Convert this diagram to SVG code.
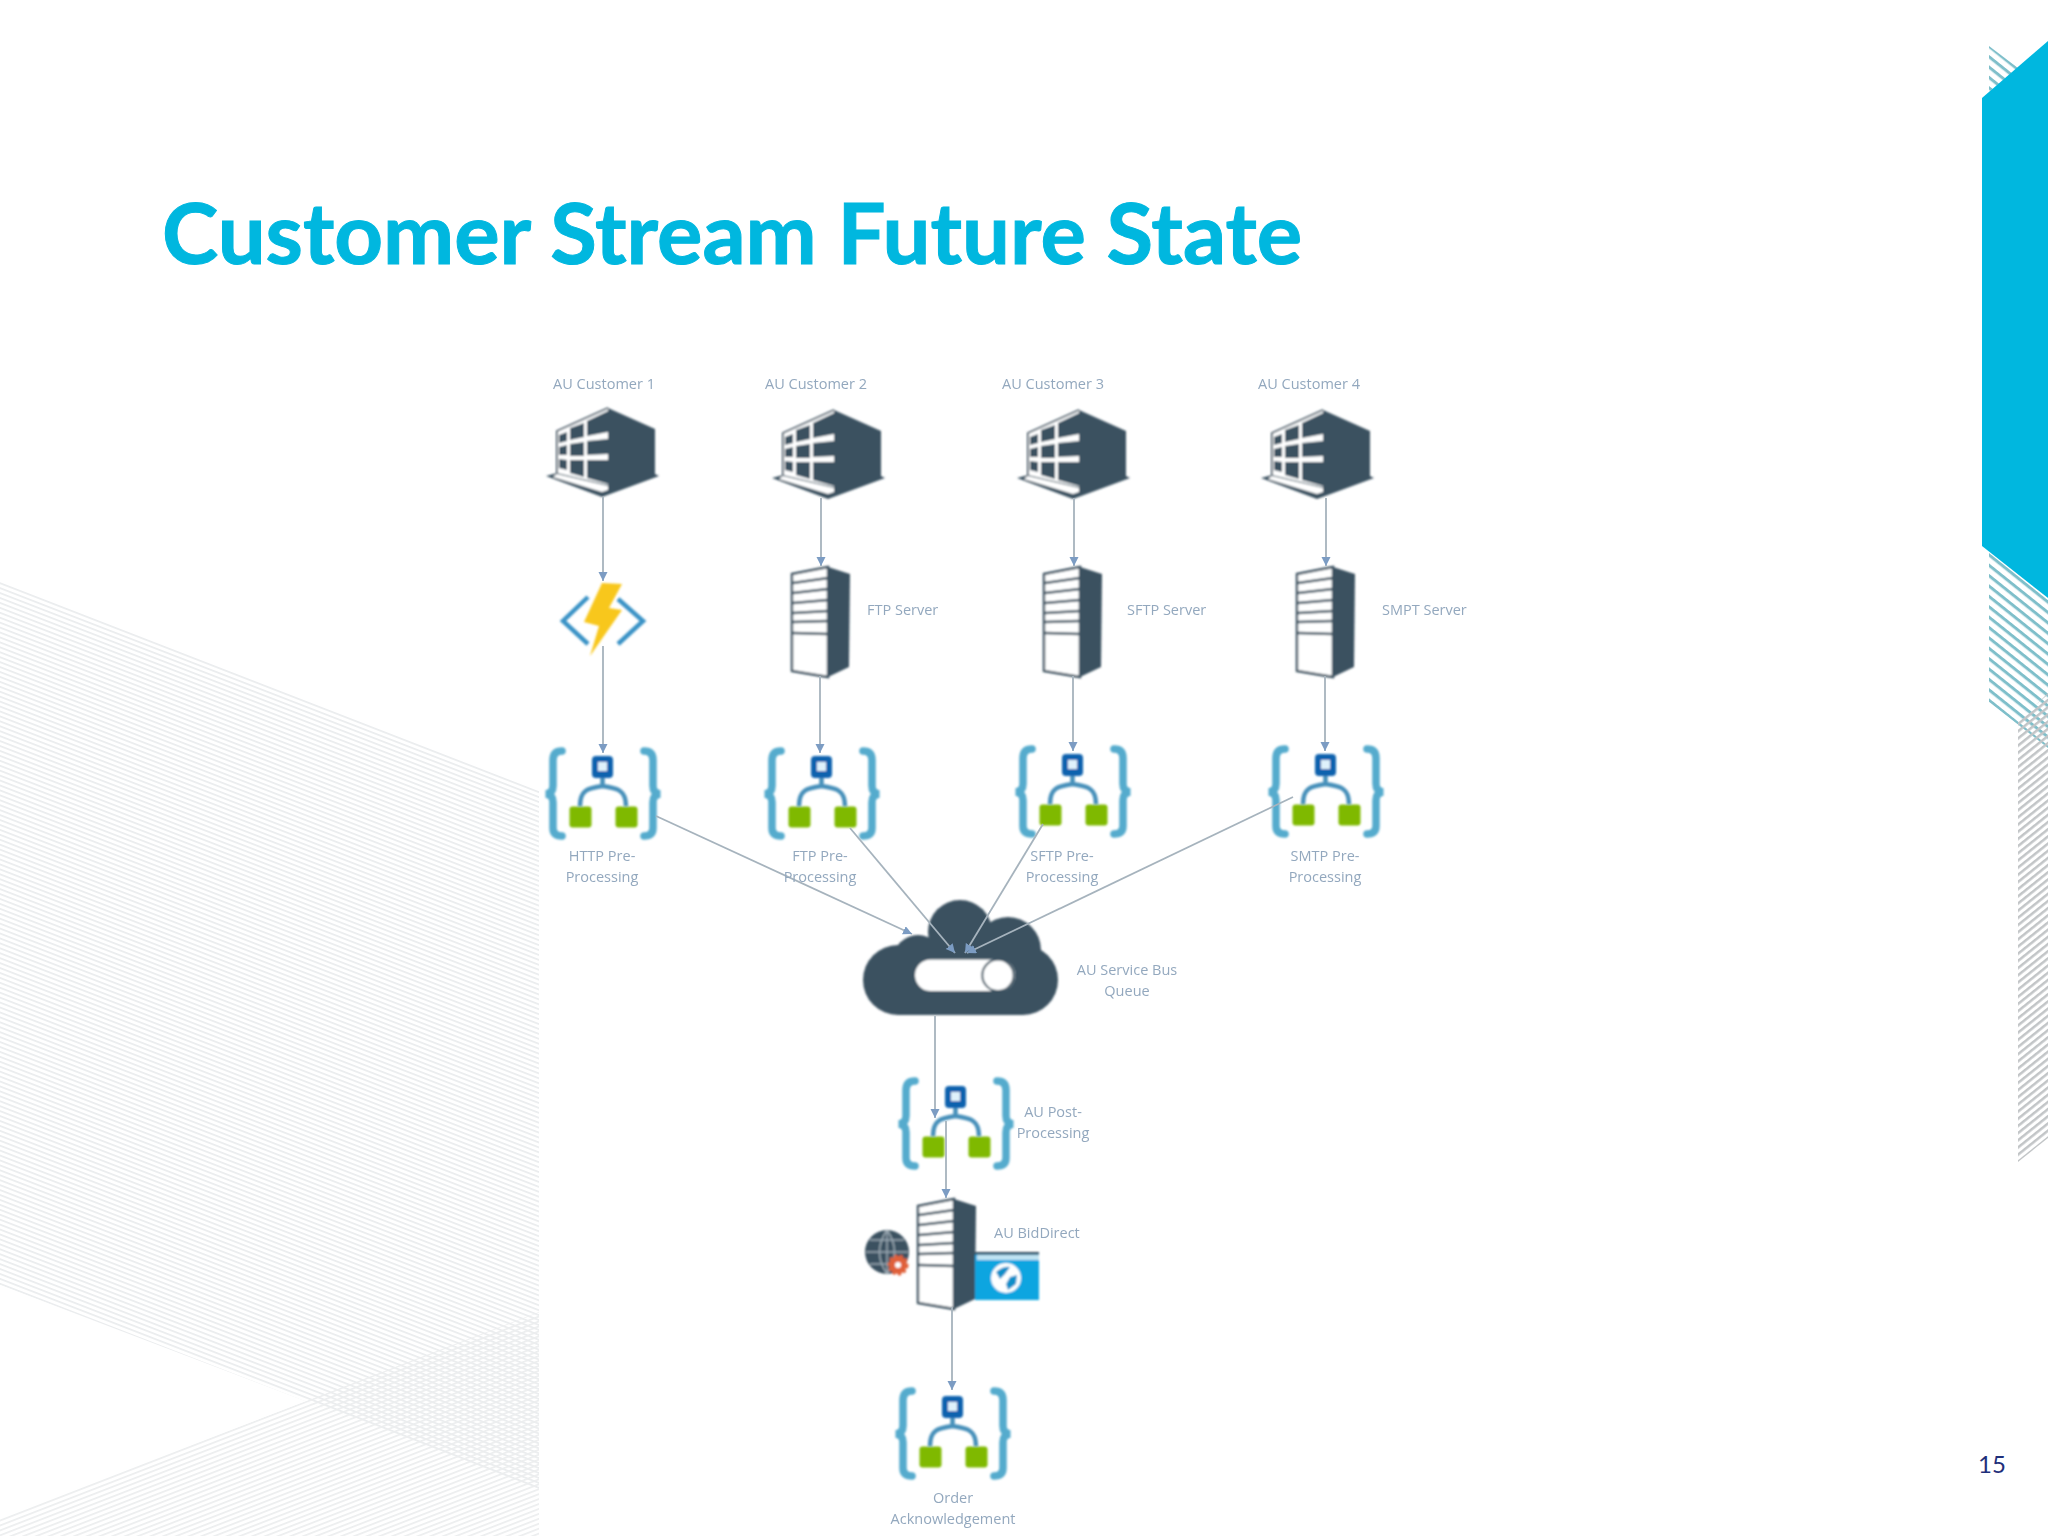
<svg xmlns="http://www.w3.org/2000/svg" width="2048" height="1536" viewBox="0 0 2048 1536">
<style>
.lbl{font-family:"Open Sans","Noto Sans",sans-serif;font-size:14.5px;fill:#93a8be}
.mid{text-anchor:middle}
.title{font-family:Lato,"Liberation Sans",sans-serif;font-weight:700;font-size:85px;fill:#00b7df;stroke:#00b7df;stroke-width:1}
.num{font-family:Lato,"Liberation Sans",sans-serif;font-size:24px;fill:#1f2f7a}
.dark{fill:#3b5160}
.link{fill:none;stroke:#a6b3bd;stroke-width:1.8}
.arrow{marker-end:url(#ah)}
.brace{fill:none;stroke:#55abcd;stroke-width:7.500;stroke-linecap:round}
.tree{fill:none;stroke:#4690ba;stroke-width:4.500}
.green{fill:#7fb900}
</style>
<defs>
<filter id="soft" x="-5%" y="-5%" width="110%" height="110%"><feGaussianBlur stdDeviation="1"/></filter>
<filter id="softer" x="-5%" y="-5%" width="110%" height="110%"><feGaussianBlur stdDeviation="0.6"/></filter>
<marker id="ah" markerUnits="userSpaceOnUse" markerWidth="12" markerHeight="10" refX="9" refY="4.500" orient="auto"><path d="M0 0L9 4.500L0 9z" fill="#7b9cc3"/></marker>
<pattern id="hatchA" patternUnits="userSpaceOnUse" width="20" height="4.600" patternTransform="rotate(21.2)"><rect width="20" height="1.700" fill="#eaecee"/></pattern>
<pattern id="hatchB" patternUnits="userSpaceOnUse" width="20" height="4.600" patternTransform="rotate(-21.2)"><rect width="20" height="1.700" fill="#eceeef"/></pattern>
<pattern id="hatchT" patternUnits="userSpaceOnUse" width="20" height="8.100" patternTransform="translate(1989 553) rotate(38.7)"><rect width="20" height="3" fill="#7fbfca"/></pattern>
<pattern id="hatchG" patternUnits="userSpaceOnUse" width="20" height="5.600" patternTransform="rotate(-38.7)"><rect width="20" height="2.500" fill="#c2c5c7"/></pattern>
<g id="building">
<path class="dark" d="M62 0L109 21V66L113 68L56 89L0 68L11 65V23z"/>
<path fill="#fff" d="M11 23L62 0V77L11 65z"/>
<path fill="#fff" d="M7 69L11 66L62 78V82L56 84z"/>
<path class="dark" d="M41 13L62 3V24L41 28zM41 33L62 31V46L41 47zM41 52L62 52V76L41 70zM24 20L38 15V29L24 32zM24 36L38 34V48L24 48zM24 52L38 52V69L24 65zM13 27L21 24V33L13 35zM13 39L21 37V47L13 47zM13 51L21 52V62L13 60z"/>
<path fill="none" stroke="#3b5160" stroke-width="1.800" d="M11 65V23L62 0"/>
</g>
<g id="server">
<path fill="#fff" stroke="#3b5160" stroke-width="2.400" d="M1 7L37 0V110L1 104z"/>
<path class="dark" d="M37 0L59 7L58 100L37 110z"/>
<path fill="none" stroke="#3b5160" stroke-width="2.400" d="M2 16L37 11M2 26L37 22M2 36L37 33M2 46L37 44M2 55L37 54M2 66L37 67"/>
</g>
<g id="logic">
<path class="brace" d="M18 3Q9 3 9 12V38Q9 45 2 46Q9 47 9 54V80Q9 88 18 88"/>
<path class="brace" d="M100 3Q109 3 109 12V38Q109 45 116 46Q109 47 109 54V80Q109 88 100 88"/>
<path class="tree" d="M58.500 30V38M58.500 38C44 40 36 42 36 58M58.500 38C73 40 82 42 82 58"/>
<rect x="48" y="8" width="21" height="22" rx="4" fill="#0a62ae"/>
<rect x="54" y="14" width="9" height="9" fill="#dff1fb"/>
<rect class="green" x="25.500" y="58.500" width="22" height="21" rx="3"/>
<rect class="green" x="71.500" y="58.500" width="22" height="21" rx="3"/>
</g>
</defs>
<rect width="2048" height="1536" fill="#fff"/>
<g id="background">
<path fill="url(#hatchA)" d="M0 581L539 790V1490L0 1285z"/>
<path fill="url(#hatchB)" d="M0 1518L539 1312V1536H0z"/>
<path fill="url(#hatchT)" d="M1989 46L2018 68L1989 92z"/>
<path fill="url(#hatchT)" d="M1989 540L2048 590V748L1989 702z"/>
<path fill="url(#hatchG)" d="M2018 722L2048 693V1138L2018 1162z"/>
<path fill="#00b7df" d="M1982 98L2048 41V598L1982 546z"/>
</g>
<text class="title" x="162" y="264">Customer Stream Future State</text>
<text class="num" x="1978" y="1473">15</text>
<g id="diagram" filter="url(#soft)">
<g id="customer1"><use href="#building" x="546" y="408"/></g>
<g id="customer2"><use href="#building" x="772" y="410"/></g>
<g id="customer3"><use href="#building" x="1017" y="410"/></g>
<g id="customer4"><use href="#building" x="1261" y="410"/></g>
<g id="http-function">
<path fill="none" stroke="#3a93c6" stroke-width="4.500" d="M588 597L563 621L588 644M618 599L643 621L618 644"/>
<path fill="#f8c71f" d="M602 583L622 584L609 608L622 610L590 656L599 626L584 622z"/>
</g>
<g id="ftp-server"><use href="#server" x="791" y="567"/></g>
<g id="sftp-server"><use href="#server" x="1043" y="567"/></g>
<g id="smpt-server"><use href="#server" x="1296" y="567"/></g>
<g id="http-pre"><use href="#logic" x="544" y="748"/></g>
<g id="ftp-pre"><use href="#logic" x="763" y="748"/></g>
<g id="sftp-pre"><use href="#logic" x="1014" y="746"/></g>
<g id="smtp-pre"><use href="#logic" x="1267" y="746"/></g>
<g id="service-bus">
<circle class="dark" cx="960" cy="932" r="32"/>
<circle class="dark" cx="1008" cy="950" r="33"/>
<circle class="dark" cx="1023" cy="980" r="35"/>
<circle class="dark" cx="898" cy="980" r="35"/>
<circle class="dark" cx="918" cy="960" r="25"/>
<rect class="dark" x="898" y="945" width="125" height="70"/>
<rect x="915" y="959.500" width="100" height="31.500" rx="15.700" fill="#fff"/>
<circle cx="998" cy="975.300" r="15.700" fill="#fff" stroke="#3b5160" stroke-width="2"/>
</g>
<g id="post-processing"><use href="#logic" x="897" y="1078"/></g>
<g id="bid-direct">
<use href="#server" x="917" y="1199"/>
<rect x="975" y="1252" width="64" height="48" fill="#0ba5e0"/>
<rect x="975" y="1252" width="64" height="2.500" fill="#3b5160"/>
<rect x="977" y="1255" width="62" height="5" fill="#bfe3f2"/>
<circle cx="1006" cy="1278" r="15" fill="#fff"/>
<path fill="#0f8fc9" d="M996 1272Q1003 1266 1010 1267L1005 1274L1000 1279zM1010 1277L1017 1275L1016 1284L1008 1290L1006 1284z"/>
<circle cx="887" cy="1252" r="22" class="dark"/>
<path fill="none" stroke="#9aa8b2" stroke-width="1.500" d="M866 1252H908M870 1240H904M870 1264H904M887 1230V1274M887 1230Q872 1252 887 1274M887 1230Q902 1252 887 1274"/>
<circle cx="898" cy="1265" r="9" fill="#e0603a" stroke="#e0603a" stroke-width="3" stroke-dasharray="3 2.500"/>
<circle cx="898" cy="1265" r="3" fill="#fff"/>
</g>
<g id="order-ack"><use href="#logic" x="894" y="1388"/></g>
</g>
<g id="connectors" filter="url(#softer)">
<path class="link arrow" d="M603 497V581"/>
<path class="link arrow" d="M603 646V753"/>
<path class="link arrow" d="M821 498V566"/>
<path class="link arrow" d="M820 676V753"/>
<path class="link arrow" d="M1074 498V566"/>
<path class="link arrow" d="M1073 676V751"/>
<path class="link arrow" d="M1326 498V566"/>
<path class="link arrow" d="M1325 676V751"/>
<path class="link arrow" d="M656 816L912 934"/>
<path class="link arrow" d="M850 828L955 953"/>
<path class="link arrow" d="M1043 824L965 953"/>
<path class="link arrow" d="M1293 797L967 953"/>
<path class="link arrow" d="M935 1016V1118"/>
<path class="link arrow" d="M946 1121V1198"/>
<path class="link arrow" d="M952 1307V1390"/>
</g>
<g id="labels" filter="url(#softer)">
<text class="lbl mid" x="604" y="389">AU Customer 1</text>
<text class="lbl mid" x="816" y="389">AU Customer 2</text>
<text class="lbl mid" x="1053" y="389">AU Customer 3</text>
<text class="lbl mid" x="1309" y="389">AU Customer 4</text>
<text class="lbl" x="867" y="615">FTP Server</text>
<text class="lbl" x="1127" y="615">SFTP Server</text>
<text class="lbl" x="1382" y="615">SMPT Server</text>
<text class="lbl mid" x="602" y="861">HTTP Pre-</text>
<text class="lbl mid" x="602" y="882">Processing</text>
<text class="lbl mid" x="820" y="861">FTP Pre-</text>
<text class="lbl mid" x="820" y="882">Processing</text>
<text class="lbl mid" x="1062" y="861">SFTP Pre-</text>
<text class="lbl mid" x="1062" y="882">Processing</text>
<text class="lbl mid" x="1325" y="861">SMTP Pre-</text>
<text class="lbl mid" x="1325" y="882">Processing</text>
<text class="lbl mid" x="1127" y="975">AU Service Bus</text>
<text class="lbl mid" x="1127" y="996">Queue</text>
<text class="lbl mid" x="1053" y="1117">AU Post-</text>
<text class="lbl mid" x="1053" y="1138">Processing</text>
<text class="lbl" x="994" y="1238">AU BidDirect</text>
<text class="lbl mid" x="953" y="1503">Order</text>
<text class="lbl mid" x="953" y="1524">Acknowledgement</text>
</g>
</svg>
